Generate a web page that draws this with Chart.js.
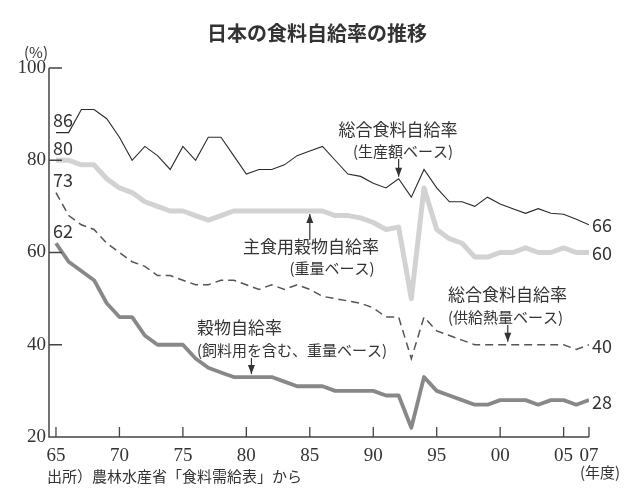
<!DOCTYPE html>
<html><head><meta charset="utf-8">
<script src="https://cdn.jsdelivr.net/npm/chart.js@4.4.0/dist/chart.umd.min.js"></script>
<style>html,body{margin:0;padding:0;background:#fff;}#wrap{width:630px;height:490px;}</style>
</head><body><div id="wrap"><canvas id="c" width="630" height="490"></canvas></div>
<script>
const years = [1965,1966,1967,1968,1969,1970,1971,1972,1973,1974,1975,1976,1977,1978,1979,1980,1981,1982,1983,1984,1985,1986,1987,1988,1989,1990,1991,1992,1993,1994,1995,1996,1997,1998,1999,2000,2001,2002,2003,2004,2005,2006,2007];
// 総合食料自給率（生産額ベース）
const valueBase = [86,86,91,91,89,85,80,83,81,78,83,80,85,85,81,77,78,78,79,81,82,83,80,77,76.5,75,74,76,72,78,74,71,71,70,72,70.5,69.5,68.5,69.5,68.5,68.3,67.2,66];
// 主食用穀物自給率（重量ベース）
const stapleGrain = [80,80,79,79,76,74,73,71,70,69,69,68,67,68,69,69,69,69,69,69,69,69,68,68,67.5,66.5,65,65.5,50,74,65,63,62,59,59,60,60,61,60,60,61,60,60];
// 総合食料自給率（供給熱量ベース）
const calorieBase = [73,68,66,65,62,60,58,57,55,55,54,53,53,54,54,53,52,53,52,53,52,50.5,50,49.5,49,48,46,46,37,46,43,42,41,40,40,40,40,40,40,40,40,39,40];
// 穀物自給率（飼料用を含む、重量ベース）
const grainIncFeed = [62,58,56,54,49,46,46,42,40,40,40,37,35,34,33,33,33,33,32,31,31,31,30,30,30,30,29,29,22,33,30,29,28,27,27,28,28,28,27,28,28,27,28];

const xTickYears = [1965,1970,1975,1980,1985,1990,1995,2000,2005,2007];
const xTickLabels = ['65','70','75','80','85','90','95','00','05','07'];
const yTickValues = [20,40,60,80,100];
const yInnerTicks = [40,60,80,100];

const FONT = "'Noto Sans CJK JP', 'Noto Sans', sans-serif";
const SERIF = "'Liberation Serif', 'DejaVu Serif', serif";
const TXT = '#333';

const toPts = arr => years.map((y,i)=>({x:y,y:arr[i]}));

const overlay = {
  id:'overlay',
  afterDraw(chart){
    const ctx = chart.ctx, xs = chart.scales.x, ys = chart.scales.y, a = chart.chartArea;
    ctx.save();
    // axes
    ctx.strokeStyle = '#444'; ctx.lineWidth = 1.5;
    ctx.beginPath();
    ctx.moveTo(a.left, ys.getPixelForValue(100));
    ctx.lineTo(a.left, a.bottom);
    ctx.lineTo(xs.getPixelForValue(2007), a.bottom);
    ctx.stroke();
    ctx.lineWidth = 1.3;
    ctx.beginPath();
    yInnerTicks.forEach(v=>{const y=ys.getPixelForValue(v); ctx.moveTo(a.left,y); ctx.lineTo(a.left+13,y);});
    xTickYears.forEach(v=>{const x=xs.getPixelForValue(v); ctx.moveTo(x,a.bottom); ctx.lineTo(x,a.bottom-10);});
    ctx.stroke();

    ctx.fillStyle = TXT;
    ctx.textBaseline = 'middle';
    // title
    ctx.font = "bold 20px " + FONT; ctx.textAlign='center';
    ctx.fillText('日本の食料自給率の推移', 317, 33);
    ctx.font = "15px " + FONT;
    ctx.fillText('(%)', 36, 52);
    ctx.fillText('(年度)', 600, 472);
    ctx.textAlign='left';
    ctx.fillText('出所）農林水産省「食料需給表」から', 47, 476);

    // annotations
    const arrow = (x,y1,y2)=>{
      ctx.beginPath(); ctx.strokeStyle='#333'; ctx.lineWidth=1.2;
      ctx.moveTo(x,y1); ctx.lineTo(x,y2); ctx.stroke();
      const d = y2>y1?1:-1;
      ctx.beginPath(); ctx.moveTo(x,y2); ctx.lineTo(x-3.5,y2-9*d); ctx.lineTo(x+3.5,y2-9*d); ctx.closePath(); ctx.fill();
    };
    ctx.textAlign='center';
    ctx.font = "17px " + FONT; ctx.fillText('総合食料自給率', 398, 130);
    ctx.font = "15px " + FONT; ctx.fillText('(生産額ベース)', 403, 151);
    arrow(xs.getPixelForValue(1992), 159, ys.getPixelForValue(76)-2);

    ctx.font = "17px " + FONT; ctx.fillText('主食用穀物自給率', 311, 247);
    ctx.font = "15px " + FONT; ctx.fillText('(重量ベース)', 332, 268);
    arrow(xs.getPixelForValue(1985), 240, ys.getPixelForValue(69)+3);

    ctx.textAlign='left';
    ctx.font = "17px " + FONT; ctx.fillText('穀物自給率', 197, 328);
    ctx.font = "15px " + FONT; ctx.fillText('(飼料用を含む、重量ベース)', 197, 350);
    arrow(xs.getPixelForValue(1980.4), 358, ys.getPixelForValue(33)-3);

    ctx.font = "17px " + FONT; ctx.fillText('総合食料自給率', 448, 295);
    ctx.font = "15px " + FONT; ctx.fillText('(供給熱量ベース)', 448, 317);
    arrow(xs.getPixelForValue(2000.6), 325, ys.getPixelForValue(40)-3);

    // end labels
    ctx.font = "18px " + FONT; ctx.textAlign='left';
    const xe = xs.getPixelForValue(2007)+3;
    ctx.fillText(String(valueBase[valueBase.length-1]), xe, ys.getPixelForValue(valueBase[valueBase.length-1]));
    ctx.fillText(String(stapleGrain[stapleGrain.length-1]), xe, ys.getPixelForValue(stapleGrain[stapleGrain.length-1])+1);
    ctx.fillText(String(calorieBase[calorieBase.length-1]), xe, ys.getPixelForValue(calorieBase[calorieBase.length-1])+1);
    ctx.fillText(String(grainIncFeed[grainIncFeed.length-1]), xe, ys.getPixelForValue(grainIncFeed[grainIncFeed.length-1])+2);
    // start labels
    const xs0 = a.left+4;
    [valueBase, stapleGrain, calorieBase, grainIncFeed].forEach(arr=>{
      ctx.fillText(String(arr[0]), xs0, ys.getPixelForValue(arr[0])-12);
    });
    ctx.restore();
  }
};

new Chart(document.getElementById('c'), {
  type:'line',
  data:{datasets:[
    {label:'主食用穀物自給率', data:toPts(stapleGrain), borderColor:'#d2d2d2', borderWidth:5, pointRadius:0, tension:0, borderJoinStyle:'round'},
    {label:'穀物自給率', data:toPts(grainIncFeed), borderColor:'#888', borderWidth:3.8, pointRadius:0, tension:0, borderJoinStyle:'round'},
    {label:'総合食料自給率（供給熱量ベース）', data:toPts(calorieBase), borderColor:'#555', borderWidth:1.5, borderDash:[8,5], pointRadius:0, tension:0},
    {label:'総合食料自給率（生産額ベース）', data:toPts(valueBase), borderColor:'#2a2a2a', borderWidth:1.1, pointRadius:0, tension:0}
  ]},
  options:{
    responsive:false, animation:false,
    layout:{padding:{top:68,right:41,left:0,bottom:0}},
    plugins:{legend:{display:false},tooltip:{enabled:false},title:{display:false}},
    scales:{
      x:{type:'linear', min:1964.45, max:2007,
        afterFit(s){s.height=53;},
        afterBuildTicks(s){s.ticks = xTickYears.map(v=>({value:v}));},
        ticks:{autoSkip:false, maxRotation:0, padding:8, color:'#333', font:{family:SERIF,size:19},
          callback:(v)=>xTickLabels[xTickYears.indexOf(v)]},
        grid:{display:false, drawTicks:false}, border:{display:false}},
      y:{min:20, max:100,
        afterFit(s){s.width=49;},
        afterBuildTicks(s){s.ticks = yTickValues.map(v=>({value:v}));},
        ticks:{padding:3, color:'#333', font:{family:SERIF,size:19}},
        grid:{display:false, drawTicks:false}, border:{display:false}}
    }
  },
  plugins:[overlay]
});
</script></body></html>
